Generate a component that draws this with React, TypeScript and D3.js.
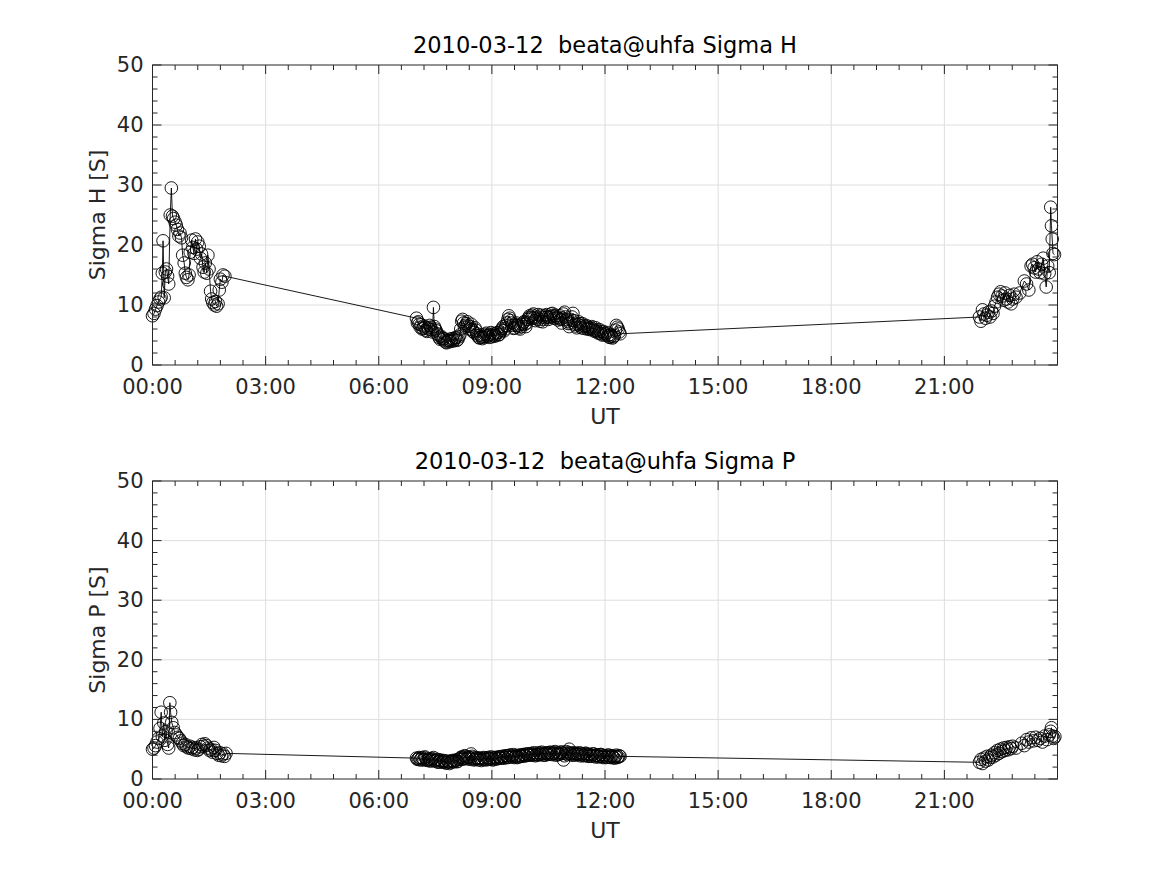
import React from "react";
import * as d3 from "d3";

// ---- Data (UT hours, conductance in S) ----
const dateLabel = "2010-03-12";
const siteLabel = "beata@uhfa";

// Sigma H: morning segment
const hMorningTimes = [
  0.0, 0.04, 0.08, 0.12, 0.16, 0.2, 0.23, 0.26, 0.28, 0.31, 0.34, 0.37, 0.4, 0.43, 0.47, 0.5, 0.53, 0.56, 0.6, 0.63,
  0.66, 0.7, 0.73, 0.77, 0.8, 0.84, 0.87, 0.9, 0.94, 0.97, 1.0, 1.04, 1.07, 1.1, 1.14, 1.17, 1.2, 1.24, 1.27, 1.3,
  1.34, 1.37, 1.4, 1.44, 1.47, 1.5, 1.54, 1.57, 1.6, 1.64, 1.67, 1.7, 1.74, 1.77, 1.8, 1.84, 1.87, 1.92,
];
const hMorningValues = [
  8.2, 8.6, 9.3, 9.9, 10.5, 11.0, 11.3, 15.3, 20.7, 11.2, 15.5, 16.0, 14.8, 13.5, 25.0, 29.5, 24.8, 24.4, 23.8, 23.3,
  22.6, 21.5, 22.0, 21.2, 18.3, 17.0, 15.3, 14.6, 14.2, 15.0, 18.8, 20.8, 19.6, 18.6, 21.0, 19.3, 20.5, 19.8, 17.8, 18.5,
  16.3, 15.5, 17.0, 15.3, 18.3, 16.0, 12.3, 11.0, 10.4, 10.0, 10.6, 9.8, 10.2, 12.5, 14.3, 13.8, 15.0, 14.8,
];

// Midday segment: samples every 1.5 min from 07:00 UT
const middayStart = 7.0;
const middayStep = 0.025;
const hMiddayValues = [
  7.8, 7.0, 7.2, 6.8, 6.3, 6.7, 6.0, 6.1, 6.5, 6.3, 5.8, 5.6, 6.2, 6.0, 6.6, 6.3, 5.9, 5.5, 9.6, 6.4,
  6.0, 5.7, 5.2, 5.0, 4.6, 4.3, 4.8, 4.5, 4.2, 4.4, 4.0, 3.8, 3.7, 4.0, 4.1, 4.3, 3.9, 4.1, 4.4, 4.0,
  4.2, 4.5, 4.6, 4.1, 4.3, 4.7, 5.0, 6.0, 7.3, 7.6, 7.0, 6.3, 6.6, 6.9, 7.2, 6.5, 6.0, 6.4, 6.8, 5.9,
  5.6, 5.4, 6.2, 5.8, 5.2, 4.9, 4.6, 4.5, 5.0, 4.7, 4.4, 4.6, 4.8, 5.1, 5.3, 4.8, 4.9, 4.6, 5.1, 5.4,
  4.7, 4.9, 5.2, 4.8, 5.0, 5.3, 5.4, 5.0, 5.1, 5.5, 5.8, 6.1, 6.4, 5.7, 6.0, 6.6, 7.0, 7.6, 8.2, 7.8,
  7.4, 7.0, 6.6, 6.1, 6.2, 6.7, 7.0, 6.6, 6.5, 6.2, 6.0, 6.4, 6.8, 7.0, 7.2, 6.8, 6.4, 7.0, 7.6, 7.9,
  8.2, 8.0, 7.8, 8.3, 8.5, 7.9, 7.4, 7.7, 8.0, 8.4, 7.6, 7.3, 8.3, 8.0, 7.2, 7.6, 7.9, 8.2, 8.4, 8.0,
  7.6, 7.9, 8.1, 8.5, 8.6, 8.2, 7.8, 8.1, 8.3, 7.9, 7.5, 7.8, 8.2, 7.6, 7.0, 7.8, 8.5, 8.8, 8.0, 7.6,
  7.3, 6.9, 6.4, 7.0, 7.5, 8.0, 8.6, 7.4, 6.8, 6.5, 6.2, 6.8, 7.2, 6.9, 6.5, 6.2, 6.9, 6.6, 6.1, 6.4,
  6.6, 6.0, 6.3, 6.1, 5.9, 6.2, 6.4, 6.0, 5.8, 5.6, 6.2, 5.8, 5.5, 5.3, 5.9, 5.6, 5.2, 5.0, 5.6, 5.3,
  5.0, 5.2, 5.4, 4.9, 4.7, 4.6, 5.1, 4.8, 4.5, 4.7, 4.9, 5.8, 6.6, 6.3, 6.0, 5.5, 5.2,
];

const hEveningTimes = [
  21.93, 21.97, 22.01, 22.05, 22.09, 22.13, 22.17, 22.21, 22.25, 22.29, 22.33, 22.37, 22.41, 22.45, 22.49, 22.53, 22.57, 22.61, 22.65, 22.69,
  22.73, 22.77, 22.81, 22.85, 22.9, 23.0, 23.12, 23.18, 23.24, 23.3, 23.34, 23.38, 23.42, 23.46, 23.5, 23.54, 23.58, 23.62, 23.66, 23.7,
  23.74, 23.78, 23.82, 23.84, 23.86, 23.88, 23.92,
];
const hEveningValues = [
  8.0, 7.3, 9.2, 8.5, 7.8, 8.3, 8.8, 8.0, 9.0, 8.6, 9.8, 10.5, 11.3, 11.8, 12.2, 11.5, 10.8, 12.0, 11.0, 10.5,
  11.6, 10.2, 11.0, 11.8, 11.3, 12.0, 14.0, 13.5, 12.5, 16.5, 16.8, 16.2, 15.5, 17.2, 16.0, 15.4, 16.8, 17.8, 15.2, 13.0,
  16.5, 15.4, 26.3, 23.2, 21.0, 18.6, 18.4,
];

// Sigma P
const pMorningTimes = [
  0.0, 0.04, 0.08, 0.12, 0.16, 0.2, 0.23, 0.26, 0.3, 0.33, 0.36, 0.4, 0.43, 0.46, 0.48, 0.51, 0.55, 0.59, 0.63, 0.67,
  0.71, 0.75, 0.79, 0.83, 0.87, 0.91, 0.95, 0.99, 1.03, 1.07, 1.11, 1.15, 1.19, 1.23, 1.27, 1.31, 1.35, 1.39, 1.43, 1.47,
  1.51, 1.55, 1.59, 1.63, 1.67, 1.71, 1.75, 1.79, 1.83, 1.87, 1.91, 1.95,
];
const pMorningValues = [
  5.0, 5.2, 5.6, 6.2, 6.8, 8.5, 11.2, 7.2, 9.4, 6.5, 8.0, 5.8, 5.2, 12.8, 11.2, 9.5, 8.6, 7.8, 7.4, 7.0,
  6.8, 6.4, 6.0, 5.6, 5.8, 5.4, 5.2, 5.5, 5.1, 5.3, 4.9, 5.2, 4.8, 5.0, 5.4, 5.8, 5.5, 5.9, 5.6, 5.2,
  4.8, 5.0, 4.5, 5.3, 4.8, 4.3, 4.0, 4.4, 3.9, 4.2, 3.8, 4.3,
];
const pMiddayValues = [
  3.5, 3.3, 3.4, 3.6, 3.2, 3.4, 3.6, 3.2, 3.3, 3.7, 3.5, 3.2, 3.1, 3.3, 3.4, 3.0, 3.2, 3.4, 3.6, 3.1,
  3.0, 3.2, 3.3, 2.8, 2.9, 3.2, 3.1, 2.9, 2.8, 3.1, 3.0, 2.7, 2.7, 3.0, 2.9, 2.6, 2.8, 3.0, 3.1, 2.9,
  2.9, 3.1, 3.2, 2.9, 3.0, 3.3, 3.4, 3.6, 3.7, 3.3, 3.5, 3.9, 3.8, 3.5, 3.4, 3.7, 3.6, 3.3, 4.2, 3.8,
  3.5, 3.2, 3.3, 3.5, 3.6, 3.4, 3.2, 3.5, 3.4, 3.1, 3.3, 3.6, 3.5, 3.3, 3.2, 3.5, 3.6, 3.3, 3.4, 3.7,
  3.5, 3.2, 3.3, 3.6, 3.6, 3.4, 3.4, 3.7, 3.7, 3.5, 3.5, 3.8, 3.8, 3.5, 3.6, 3.9, 3.9, 3.6, 3.7, 4.0,
  4.0, 3.7, 3.8, 4.1, 3.6, 3.8, 3.9, 3.6, 3.7, 4.0, 4.0, 3.8, 3.8, 4.1, 4.1, 3.9, 3.9, 4.2, 4.2, 4.0,
  4.0, 4.2, 4.3, 4.0, 4.1, 4.4, 3.9, 4.1, 4.2, 4.0, 4.4, 4.2, 4.1, 4.5, 4.3, 4.0, 4.0, 4.3, 4.4, 4.1,
  4.2, 4.4, 4.5, 4.2, 4.1, 4.4, 4.3, 4.6, 4.0, 4.2, 4.4, 4.1, 4.2, 4.5, 4.5, 4.3, 3.2, 3.9, 4.3, 4.6,
  4.1, 4.4, 5.0, 4.3, 4.2, 4.0, 4.4, 4.2, 4.0, 4.3, 4.3, 4.1, 4.1, 4.4, 3.9, 4.2, 4.2, 3.9, 4.0, 4.3,
  4.3, 4.0, 3.8, 4.1, 4.1, 3.8, 3.9, 4.2, 4.2, 3.9, 3.7, 4.0, 4.0, 3.7, 3.8, 4.1, 4.1, 3.8, 3.6, 3.9,
  3.9, 3.6, 3.7, 4.0, 4.0, 3.7, 3.6, 3.9, 3.8, 3.6, 3.5, 3.8, 4.0, 3.6, 3.7, 3.9, 3.8,
];
const pEveningTimes = [
  21.93, 21.97, 22.01, 22.05, 22.09, 22.13, 22.17, 22.21, 22.25, 22.29, 22.33, 22.37, 22.41, 22.45, 22.49, 22.53, 22.57, 22.61, 22.65, 22.69,
  22.73, 22.77, 22.81, 22.9, 23.05, 23.12, 23.18, 23.24, 23.3, 23.36, 23.42, 23.48, 23.54, 23.6, 23.66, 23.72, 23.78, 23.82, 23.84, 23.87,
  23.9, 23.93,
];
const pEveningValues = [
  2.8, 3.3, 2.6, 3.5, 3.0, 3.8, 3.2, 3.6, 4.0, 3.7, 4.4, 4.0, 4.8, 4.3, 5.0, 4.6, 5.2, 4.8, 5.3, 4.9,
  5.4, 5.1, 5.5, 5.2, 6.0, 5.6, 6.6, 6.2, 6.9, 6.4, 7.0, 6.5, 6.8, 6.2, 7.2, 6.6, 7.4, 8.0, 8.6, 7.2,
  6.8, 7.1,
];

const xMajorTicks = [0, 3, 6, 9, 12, 15, 18, 21];
const xTickLabels = ["00:00", "03:00", "06:00", "09:00", "12:00", "15:00", "18:00", "21:00"];
const yMajorTicks = [0, 10, 20, 30, 40, 50];

function buildSeries(mt: number[], mv: number[], midVals: number[], et: number[], ev: number[]) {
  const pts: [number, number][] = [];
  mt.forEach((t, i) => pts.push([t, mv[i]]));
  midVals.forEach((v, i) => pts.push([middayStart + i * middayStep, v]));
  et.forEach((t, i) => pts.push([t, ev[i]]));
  return pts;
}

const panels = [
  {
    key: "H",
    title: `${dateLabel}  ${siteLabel} Sigma H`,
    ylabel: "Sigma H [S]",
    pts: buildSeries(hMorningTimes, hMorningValues, hMiddayValues, hEveningTimes, hEveningValues),
    top: 65,
    bottom: 365,
  },
  {
    key: "P",
    title: `${dateLabel}  ${siteLabel} Sigma P`,
    ylabel: "Sigma P [S]",
    pts: buildSeries(pMorningTimes, pMorningValues, pMiddayValues, pEveningTimes, pEveningValues),
    top: 481,
    bottom: 779,
  },
];

const LEFT = 152.5;
const RIGHT = 1057.5;
const AXIS_COLOR = "#262626";
const GRID_COLOR = "#dedede";
const FONT = "'DejaVu Sans', sans-serif";

function Panel({ p }: { p: (typeof panels)[number] }) {
  const x = d3.scaleLinear().domain([0, 24]).range([LEFT, RIGHT]);
  const y = d3.scaleLinear().domain([0, 50]).range([p.bottom, p.top]);
  const xMinor = d3.range(0, 24.001, 0.6).filter((v) => Math.abs(v / 3 - Math.round(v / 3)) > 1e-6);
  const yMinor = d3.range(0, 50.001, 2).filter((v) => v % 10 !== 0);
  const pts = p.pts;
  const line = d3
    .line<[number, number]>()
    .x((d) => x(d[0]))
    .y((d) => y(d[1]));
  const majLen = 9;
  const minLen = 5;
  return (
    <g>
      {xMajorTicks.slice(1).map((t) => (
        <line key={"gx" + t} x1={x(t)} x2={x(t)} y1={p.top} y2={p.bottom} stroke={GRID_COLOR} strokeWidth={1} />
      ))}
      {yMajorTicks.slice(1, -1).map((t) => (
        <line key={"gy" + t} x1={LEFT} x2={RIGHT} y1={y(t)} y2={y(t)} stroke={GRID_COLOR} strokeWidth={1} />
      ))}
      <path d={line(pts) || ""} fill="none" stroke="#000" strokeWidth={0.9} />
      {pts.map((d, i) => (
        <circle key={i} cx={x(d[0])} cy={y(d[1])} r={6.3} fill="none" stroke="#000" strokeWidth={0.9} />
      ))}
      <rect x={LEFT} y={p.top} width={RIGHT - LEFT} height={p.bottom - p.top} fill="none" stroke={AXIS_COLOR} strokeWidth={1} />
      {xMajorTicks.map((t) => (
        <g key={"xt" + t}>
          <line x1={x(t)} x2={x(t)} y1={p.bottom} y2={p.bottom - majLen} stroke={AXIS_COLOR} />
          <line x1={x(t)} x2={x(t)} y1={p.top} y2={p.top + majLen} stroke={AXIS_COLOR} />
        </g>
      ))}
      {xMinor.map((t) => (
        <g key={"xm" + t}>
          <line x1={x(t)} x2={x(t)} y1={p.bottom} y2={p.bottom - minLen} stroke={AXIS_COLOR} />
          <line x1={x(t)} x2={x(t)} y1={p.top} y2={p.top + minLen} stroke={AXIS_COLOR} />
        </g>
      ))}
      {yMajorTicks.map((t) => (
        <g key={"yt" + t}>
          <line x1={LEFT} x2={LEFT + majLen} y1={y(t)} y2={y(t)} stroke={AXIS_COLOR} />
          <line x1={RIGHT} x2={RIGHT - majLen} y1={y(t)} y2={y(t)} stroke={AXIS_COLOR} />
        </g>
      ))}
      {yMinor.map((t) => (
        <g key={"ym" + t}>
          <line x1={LEFT} x2={LEFT + minLen} y1={y(t)} y2={y(t)} stroke={AXIS_COLOR} />
          <line x1={RIGHT} x2={RIGHT - minLen} y1={y(t)} y2={y(t)} stroke={AXIS_COLOR} />
        </g>
      ))}
      {xMajorTicks.map((t, i) => (
        <text key={"xl" + t} x={x(t)} y={p.bottom + 29} textAnchor="middle" fontSize={21} fill={AXIS_COLOR} fontFamily={FONT}>
          {xTickLabels[i]}
        </text>
      ))}
      {yMajorTicks.map((t) => (
        <text key={"yl" + t} x={LEFT - 9} y={y(t) + 7} textAnchor="end" fontSize={21} fill={AXIS_COLOR} fontFamily={FONT}>
          {t}
        </text>
      ))}
      <text x={(LEFT + RIGHT) / 2} y={p.bottom + 59} textAnchor="middle" fontSize={22} fill={AXIS_COLOR} fontFamily={FONT}>
        UT
      </text>
      <text
        transform={`translate(105,${(p.top + p.bottom) / 2}) rotate(-90)`}
        textAnchor="middle"
        fontSize={22}
        fill={AXIS_COLOR}
        fontFamily={FONT}
      >
        {p.ylabel}
      </text>
      <text
        x={(LEFT + RIGHT) / 2}
        y={p.top - 12}
        textAnchor="middle"
        fontSize={22.5}
        fill="#000"
        fontFamily={FONT}
        style={{ whiteSpace: "pre" }}
      >
        {p.title}
      </text>
    </g>
  );
}

export default function App() {
  return (
    <svg width={1167} height={875} style={{ display: "block", position: "absolute", left: 0, top: 0, background: "#fff" }}>
      <rect width={1167} height={875} fill="#fff" />
      {panels.map((p) => (
        <Panel key={p.key} p={p} />
      ))}
    </svg>
  );
}
